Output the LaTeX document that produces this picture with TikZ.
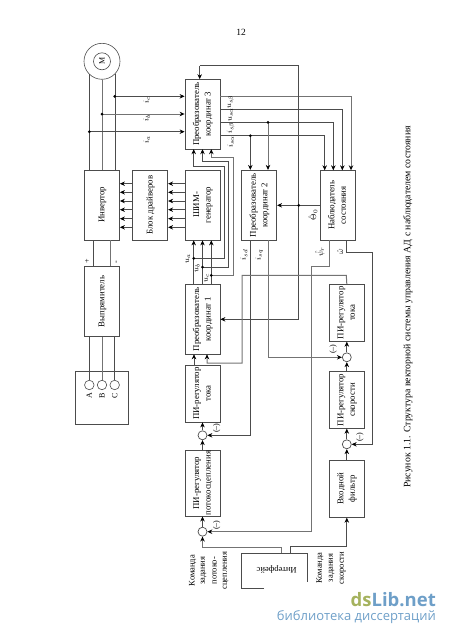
\documentclass[tikz,border=0pt]{standalone}
\usepackage{fontspec}
\setmainfont{Liberation Serif}
\newfontfamily\markfont{Open Sans}
\usetikzlibrary{arrows.meta}
\definecolor{wire}{gray}{0.3}
\definecolor{palewire}{gray}{0.45}
\definecolor{markgreen}{HTML}{A5B25E}
\definecolor{markblue}{HTML}{6E9FC8}
\newcommand{\rottext}[1]{\rotatebox{90}{\begin{tabular}{@{}c@{}}#1\end{tabular}}}
\tikzset{
  blockbox/.style={draw=wire,line width=0.8pt,inner sep=0pt,minimum width=35pt,font=\fontsize{8.8}{11.5}\selectfont},
  sumnode/.style={circle,draw=wire,line width=0.7pt,inner sep=0pt,minimum size=9pt},
  pinnode/.style={circle,draw=wire,line width=0.6pt,inner sep=0pt,minimum size=9.5pt},
  smalllabel/.style={rotate=90,inner sep=0pt,font=\fontsize{8}{9}\selectfont},
  signlabel/.style={rotate=90,inner sep=0pt,font=\fontsize{8}{9}\selectfont},
  cmdlabel/.style={rotate=90,inner sep=0pt,font=\fontsize{8.5}{10}\selectfont},
  line/.style={draw=wire,line width=0.7pt},
  paleline/.style={draw=palewire,line width=1pt},
}
\begin{document}
\begin{tikzpicture}[x=1pt,y=-1pt,>={Stealth[length=5pt,width=4.5pt,color=black]}]
\useasboundingbox (0,0) rectangle (450,637);

\node[inner sep=0pt,font=\fontsize{9.5}{11}\selectfont] (pagenum) at (241,32) {12};

% motor and power part
\node[circle,draw=wire,line width=0.6pt,minimum size=36pt,inner sep=0pt] (motor) at (102,61.3) {};
\node[circle,draw=wire,line width=0.6pt,minimum size=17pt,inner sep=0pt,font=\fontsize{8}{9}\selectfont] (motorin) at (102,61.3) {\rotatebox{90}{М}};
\node[blockbox,minimum height=70pt] (inv) at (102,205) {\rottext{Инвертор}};
\node[blockbox,minimum height=70pt] (drv) at (150.2,205) {\rottext{Блок драйверов}};
\node[blockbox,minimum height=70pt] (pwm) at (202.5,205) {\rottext{ШИМ-\\генератор}};
\node[blockbox,minimum height=70pt] (rect) at (102,301.5) {\rottext{Выпрямитель}};
\node[draw=wire,line width=0.6pt,minimum width=52.6pt,minimum height=52.3pt,inner sep=0pt] (src) at (102,397.8) {};
\node[pinnode] (pina) at (89.3,385) {};
\node[pinnode] (pinb) at (102,385) {};
\node[pinnode] (pinc) at (114.7,385) {};
\node[signlabel] (lba) at (89.3,396) {A};
\node[signlabel] (lbb) at (102,396) {B};
\node[signlabel] (lbc) at (114.7,396) {C};
\node[signlabel] (plus) at (87.3,261.7) {+};
\node[signlabel] (minus) at (117,262) {-};

% converters and regulators
\node[blockbox,minimum height=70pt] (conv3) at (202.5,114.2) {\rottext{Преобразователь\\координат 3}};
\node[blockbox,minimum height=70pt] (conv2) at (259.2,205.3) {\rottext{Преобразователь\\координат 2}};
\node[blockbox,minimum height=70pt] (obs) at (337.8,205.3) {\rottext{Наблюдатель\\состояния}};
\node[blockbox,minimum height=70pt] (conv1) at (202.5,319.3) {\rottext{Преобразователь\\координат 1}};
\node[blockbox,minimum height=57pt] (picur) at (202.5,393.5) {\rottext{ПИ-регулятор\\тока}};
\node[blockbox,minimum height=65.7pt] (piflux) at (202.5,483.2) {\rottext{ПИ-регулятор\\потокосцепления}};
\node[blockbox,minimum height=57pt] (picurb) at (346.8,312.8) {\rottext{ПИ-регулятор\\тока}};
\node[blockbox,minimum height=56.6pt] (pispd) at (346.8,400) {\rottext{ПИ-регулятор\\скорости}};
\node[blockbox,minimum height=57pt] (filt) at (346.8,488.8) {\rottext{Входной\\фильтр}};
\node[sumnode] (sumcur) at (202.5,435.3) {};
\node[sumnode] (sumflux) at (202.5,531.7) {};
\node[sumnode] (sumcurb) at (346.8,357.3) {};
\node[sumnode] (sumspd) at (346.8,444.3) {};

% interface, open at the lower corner
\draw[line] (264,588.3) -- (241.7,588.3) -- (241.7,553.3) -- (307,553.3) -- (307,581.7);
\node[inner sep=0pt,rotate=180,font=\fontsize{8.5}{10}\selectfont] (iface) at (276.7,569.3) {Интерфейс};
\coordinate (ifa) at (281.7,553.3);
\coordinate (ifb) at (290,553.3);

% phases
\coordinate (ia) at (89.3,131.7);
\coordinate (ib) at (102,114);
\coordinate (ic) at (114.7,96.3);
\draw[line] (motor.225) -- (motor.225 |- inv.north);
\draw[paleline] (motor.south) -- (motor.south |- inv.north);
\draw[line] (motor.-45) -- (motor.-45 |- inv.north);
\draw[->,line] (ia) -- (ia -| conv3.west);
\draw[->,paleline] (ib) -- (ib -| conv3.west);
\draw[->,line] (ic) -- (ic -| conv3.west);
\fill (ia) circle (1.5);
\fill (ib) circle (1.5);
\fill (ic) circle (1.5);
\node[smalllabel] (lbic) at (146.7,100) {$i_c$};
\node[smalllabel] (lbib) at (146.7,118) {$i_b$};
\node[smalllabel] (lbia) at (146.7,140) {$i_a$};

% power lines
\draw[line] (93.3,240) -- (93.3,266.3);
\draw[paleline] (110.7,240) -- (110.7,266.3);
\draw[line] (pina) -- (pina |- rect.south);
\draw[paleline] (pinb) -- (pinb |- rect.south);
\draw[line] (pinc) -- (pinc |- rect.south);

% gate signals
\coordinate (ga) at (185,183.7);
\coordinate (gb) at (185,192.3);
\coordinate (gc) at (185,201);
\coordinate (gd) at (185,209.7);
\coordinate (ge) at (185,218.7);
\coordinate (gf) at (185,227.3);
\draw[->,line] (ga) -- (ga -| drv.east);
\draw[->,line] (gb) -- (gb -| drv.east);
\draw[->,line] (gc) -- (gc -| drv.east);
\draw[->,line] (gd) -- (gd -| drv.east);
\draw[->,line] (ge) -- (ge -| drv.east);
\draw[->,line] (gf) -- (gf -| drv.east);
\draw[->,line] (ga -| drv.west) -- (ga -| inv.east);
\draw[->,line] (gb -| drv.west) -- (gb -| inv.east);
\draw[->,line] (gc -| drv.west) -- (gc -| inv.east);
\draw[->,line] (gd -| drv.west) -- (gd -| inv.east);
\draw[->,line] (ge -| drv.west) -- (ge -| inv.east);
\draw[->,line] (gf -| drv.west) -- (gf -| inv.east);

% voltage references
\coordinate (ua) at (193.7,258.3);
\coordinate (ub) at (202.5,267);
\coordinate (uc) at (211.3,275.3);
\draw[->,line] (ua |- conv1.north) -- (ua |- pwm.south);
\draw[->,line] (ub |- conv1.north) -- (ub |- pwm.south);
\draw[->,line] (uc |- conv1.north) -- (uc |- pwm.south);
\draw[->,line] (ua) -- (224.3,258.3) -- (224.3,166) -- (193.7,166) -- (193.7,149.2);
\draw[->,line] (ub) -- (228.7,267) -- (228.7,161.7) -- (202.5,161.7) -- (202.5,149.2);
\draw[->,paleline] (uc) -- (233,275.3) -- (233,157.3) -- (211.3,157.3) -- (211.3,149.2);
\fill (ua) circle (1.5);
\fill (ub) circle (1.5);
\fill (uc) circle (1.5);
\node[smalllabel] (lbua) at (188,259) {$u_a$};
\node[smalllabel] (lbub) at (197.3,268) {$u_b$};
\node[smalllabel] (lbuc) at (206.7,278) {$u_c$};

% outputs of converter 3
\coordinate (oa) at (220,96.3);
\coordinate (ob) at (220,109.3);
\coordinate (oc) at (220,122.3);
\coordinate (od) at (220,135.7);
\coordinate (qd) at (250.3,135.7);
\coordinate (qq) at (268,122.3);
\draw[->,paleline] (oa) -| (351,170.3);
\draw[->,line] (ob) -| (342.3,170.3);
\draw[->,line] (oc) -| (333.3,170.3);
\draw[->,line] (od) -| (324.7,170.3);
\draw[->,line] (qd) -- (qd |- conv2.north);
\draw[->,paleline] (qq) -- (qq |- conv2.north);
\fill (qd) circle (1.5);
\fill (qq) circle (1.5);
\node[smalllabel] (lbusb) at (230.7,102) {$u_{s\beta}$};
\node[smalllabel] (lbusa) at (230.7,115) {$u_{s\alpha}$};
\node[smalllabel] (lbisb) at (230.7,128) {$i_{s\beta}$};
\node[smalllabel] (lbisa) at (230.7,141.7) {$i_{s\alpha}$};

% angle
\coordinate (ang) at (298.7,205.3);
\draw[->,line] (obs.west) -- (conv2.east);
\draw[->,line] (298.7,319.3) -- (conv1.east);
\draw[line] (298.7,319.3) -- (298.7,65.7) -- (199.7,65.7);
\draw[->,line] (199.7,65.7) -- (199.7,79.2);
\fill (ang) circle (1.5);
\node[smalllabel] (lbang) at (313,215) {$\hat{\Theta}_0$};

% current loops
\coordinate (cd) at (250.3,240.3);
\coordinate (cq) at (268,240.3);
\draw[->,line] (cd) |- (sumcur.east);
\draw[->,paleline] (cq) |- (sumcurb.west);
\node[smalllabel] (lbisd) at (244,255) {$i_{sd}$};
\node[smalllabel] (lbisq) at (259.3,255) {$i_{sq}$};
\draw[->,line] (sumcur) -- (sumcur |- picur.south);
\draw[->,line] (194,365) -- (194,354.3);
\draw[->,paleline] (picurb.north) -- (346.3,275.3) -- (242,275.3) -- (242,363) -- (207,363) -- (207,354.3);
\draw[->,line] (piflux.north) -- (sumcur.south);
\draw[->,line] (sumflux) -- (piflux.south);
\draw[->,line] (sumcurb) -- (picurb.south);
\draw[->,line] (pispd.north) -- (sumcurb.south);
\draw[->,line] (sumspd) -- (pispd.south);
\draw[->,line] (filt.north) -- (sumspd.south);
\node[signlabel] (mna) at (216.7,428.3) {(–)};
\node[signlabel] (mnb) at (216.7,525) {(–)};
\node[signlabel] (mnc) at (333.3,349.3) {(–)};
\node[signlabel] (mnd) at (360,437) {(–)};

% observer outputs
\draw[->,paleline] (329.3,240.3) -- (329.3,266.7) -- (311.7,266.7) |- (sumflux.east);
\draw[->,line] (346.3,240.3) -- (346.3,252.7) -- (372.7,252.7) |- (sumspd.east);
\node[smalllabel] (lbpsi) at (320,251.7) {$\hat{\psi}_r$};
\node[smalllabel] (lbom) at (340,251.7) {$\hat{\omega}$};

% commands
\draw[->,paleline] (ifa) -- (281.7,547.7) -| (sumflux.south);
\draw[->,line] (ifb) -- (290,546.3) -| (filt.south);
\node[cmdlabel] (cmfa) at (192.7,570.7) {Команда};
\node[cmdlabel] (cmfb) at (203.7,570.7) {задания};
\node[cmdlabel] (cmfc) at (214.7,570.7) {потоко-};
\node[cmdlabel] (cmfd) at (225.7,570.7) {сцепления};
\node[cmdlabel] (cmsa) at (320,568) {Команда};
\node[cmdlabel] (cmsb) at (331.7,568) {задания};
\node[cmdlabel] (cmsc) at (342.7,568) {скорости};

% caption and mark
\node[rotate=90,inner sep=0pt,font=\fontsize{9.8}{12}\selectfont] (caption) at (408,307) {Рисунок 1.1. Структура векторной системы управления АД с наблюдателем состояния};
\node[anchor=east,inner sep=0pt,font=\markfont\bfseries\fontsize{18.5}{22}\selectfont] (mark) at (436,600) {\textcolor{markgreen}{ds}\textcolor{markblue}{Lib.net}};
\node[anchor=east,inner sep=0pt,text=markblue,font=\markfont\fontsize{13}{15}\selectfont] (marktext) at (436,617) {библиотека диссертаций};
\end{tikzpicture}
\end{document}
